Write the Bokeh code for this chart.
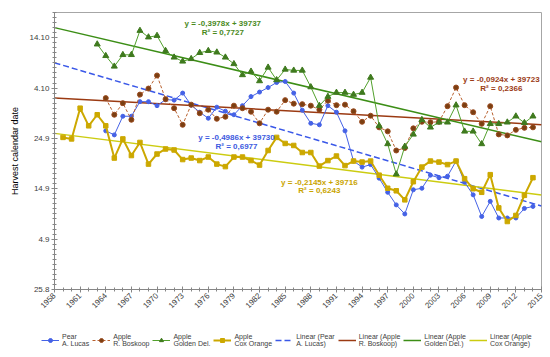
import math
from bokeh.plotting import figure
from bokeh.layouts import column, row
from bokeh.models import Range1d, FixedTicker, Label, Legend, LegendItem
from bokeh.embed import file_html
from bokeh.resources import INLINE

# Excel date serial of 25.8 (2008) = zero of the day offsets below
DATE_ORIGIN = 39685

pear_years = list(range(1964, 2015))
pear_days = [31.5, 30.7, 34.4, 34.4, 37.3, 37.3, 36.5, 37.7, 37.6, 39.0,
             36.6, 35.2, 34.0, 36.2, 35.4, 34.7, 36.5, 38.3, 39.2, 40.1,
             41.1, 41.3, 39.0, 35.6, 33.0, 32.7, 36.5, 35.2, 31.5, 25.5,
             24.3, 24.8, 22.1, 19.3, 16.8, 15.0, 19.8, 20.1, 22.7, 22.2,
             22.5, 25.5, 21.3, 18.8, 14.5, 17.5, 14.2, 14.2, 14.2, 16.1,
             16.5]

boskoop_years = list(range(1964, 2015))
boskoop_days = [38.0, 34.7, 37.0, 33.7, 38.7, 39.9, 42.5, 37.8, 36.0, 32.7,
                36.7, 35.0, 35.7, 33.9, 34.3, 36.5, 36.0, 35.3, 33.0, 35.7,
                35.3, 37.6, 36.9, 36.8, 36.5, 35.7, 37.5, 36.6, 36.7, 35.4,
                33.3, 34.5, 32.2, 31.4, 27.6, 28.1, 32.0, 33.3, 33.2, 33.3,
                36.4, 40.1, 36.6, 35.2, 32.9, 36.4, 30.8, 30.6, 31.7, 32.1,
                32.2]

golden_years = list(range(1963, 2015))
golden_days = [48.7, 46.4, 44.3, 46.6, 46.6, 51.4, 50.1, 50.4, 47.4, 46.1,
               45.3, 45.8, 47.0, 47.4, 47.1, 46.1, 44.8, 42.6, 43.3, 41.4,
               44.1, 41.6, 43.7, 43.5, 43.5, 40.2, 36.5, 38.3, 39.1, 39.1,
               38.7, 39.1, 42.1, 32.5, 28.9, 22.9, 28.4, 30.8, 33.7, 32.2,
               33.2, 33.2, 36.6, 31.4, 31.4, 28.9, 32.9, 32.9, 33.2, 34.4,
               33.1, 34.4]

cox_years = list(range(1959, 2015))
cox_days = [30.2, 29.9, 36.0, 32.5, 34.7, 32.5, 26.1, 29.9, 26.6, 29.2,
            24.9, 26.9, 27.9, 27.7, 25.8, 26.1, 25.6, 26.3, 24.9, 24.4,
            26.3, 26.3, 25.6, 24.7, 27.6, 30.2, 29.0, 28.6, 27.2, 27.2,
            24.5, 25.6, 26.5, 24.6, 25.5, 25.3, 25.5, 22.7, 20.1, 19.6,
            17.8, 21.4, 24.3, 25.5, 25.3, 24.8, 25.5, 22.0, 20.0, 19.3,
            22.8, 16.2, 13.5, 14.7, 18.7, 22.2]

# linear trends (x = year - 1958)
trend_x0 = 1958
trend_years = [1958, 2015]
pear_trend = (-0.4986, 39730, "0,6977")
boskoop_trend = (-0.0924, 39723, "0,2366")
golden_trend = (-0.3978, 39737, "0,7727")
cox_trend = (-0.2145, 39716, "0,6243")

y_tick_values = [39685, 39695, 39705, 39715, 39725, 39735]
y_tick_labels = ["25.8", "4.9", "14.9", "24.9", "4.10", "14.10"]
x_tick_years = list(range(1958, 2016, 3))

legend_labels = ["Pear\nA. Lucas", "Apple\nR. Boskoop", "Apple\nGolden Del.",
                 "Apple\nCox Orange", "Linear (Pear\nA. Lucas)",
                 "Linear (Apple\nR. Boskoop)", "Linear (Apple\nGolden Del.)",
                 "Linear (Apple\nCox Orange)"]

FONT = "Liberation Sans"

p = figure(width=544, height=322, output_backend="svg", toolbar_location=None,
           x_range=Range1d(1958, 2015), y_range=Range1d(39685, 39740),
           min_border_left=54, min_border_right=3, min_border_top=12,
           min_border_bottom=33)
p.xgrid.visible = False
p.ygrid.visible = False
p.outline_line_color = "#a6a6a6"
p.background_fill_color = "white"

# axes
p.yaxis.ticker = FixedTicker(ticks=y_tick_values, minor_ticks=list(range(39685, 39741)))
p.yaxis.major_label_overrides = {v: l for v, l in zip(y_tick_values, y_tick_labels)}
p.xaxis.ticker = FixedTicker(ticks=x_tick_years, minor_ticks=list(range(1958, 2016)))
p.xaxis.major_label_orientation = math.pi / 4
p.yaxis.axis_label = "Harvest calendar date"
for ax in (p.xaxis[0], p.yaxis[0]):
    ax.axis_line_color = "#868686"
    ax.major_tick_line_color = "#868686"
    ax.minor_tick_line_color = "#868686"
    ax.major_tick_in = 3
    ax.major_tick_out = 3
    ax.minor_tick_in = 2
    ax.minor_tick_out = 2
    ax.major_label_text_font = FONT
    ax.major_label_text_font_size = "8px"
    ax.major_label_text_color = "#404040"
    ax.major_label_standoff = 2
p.yaxis.axis_label_text_font = FONT
p.yaxis.axis_label_text_font_size = "9px"
p.yaxis.axis_label_text_font_style = "normal"
p.yaxis.axis_label_text_color = "black"
p.yaxis.axis_label_standoff = 6

def trend(coef):
    a, b, _ = coef
    return [a * (yr - trend_x0) + b for yr in trend_years]

def ser(days):
    return [DATE_ORIGIN + d for d in days]

styles = {
    "pear": dict(line_color="#4562e6", line_width=1),
    "pear_m": dict(marker="circle", size=4, fill_color="#4562e6", line_color="#4562e6"),
    "bos": dict(line_color="#b8602e", line_width=1, line_dash="3 2"),
    "bos_m": dict(marker="circle", size=5, fill_color="#7a3f12", line_color="#9a4a1e"),
    "gold": dict(line_color="#52a02c", line_width=1),
    "gold_m": dict(marker="triangle", size=6, fill_color="#3f7a1e", line_color="#3f7a1e"),
    "cox": dict(line_color="#cca800", line_width=2),
    "cox_m": dict(marker="square", size=4.5, fill_color="#cca800", line_color="#cca800"),
    "t_pear": dict(line_color="#3a58e8", line_width=1.5, line_dash="6 3"),
    "t_bos": dict(line_color="#9b3a12", line_width=1.5),
    "t_gold": dict(line_color="#3c8e16", line_width=1.5),
    "t_cox": dict(line_color="#cccc10", line_width=1.5),
}

# trend lines
p.line(trend_years, trend(pear_trend), **styles["t_pear"])
p.line(trend_years, trend(boskoop_trend), **styles["t_bos"])
p.line(trend_years, trend(golden_trend), **styles["t_gold"])
p.line(trend_years, trend(cox_trend), **styles["t_cox"])

# data series
for yrs, days, key in ((pear_years, pear_days, "pear"), (boskoop_years, boskoop_days, "bos"),
                       (golden_years, golden_days, "gold"), (cox_years, cox_days, "cox")):
    p.line(yrs, ser(days), **styles[key])
    p.scatter(yrs, ser(days), **styles[key + "_m"])

# equations
def eq_text(coef):
    a, b, _ = coef
    return "y = " + f"{a:.4f}".replace(".", ",") + f"x + {b}"

eq_specs = [
    (golden_trend, "#4a8a1c", 1977.7, 39737.8, 39736.0),
    (pear_trend, "#3d5ae0", 1979.3, 39715.2, 39713.4),
    (cox_trend, "#c9a400", 1989.0, 39706.2, 39704.6),
    (boskoop_trend, "#9b3b16", 2010.3, 39726.7, 39724.9),
]
for coef, col, xx, y1, y2 in eq_specs:
    for txt, yy in ((eq_text(coef), y1), ("R\u00b2 = " + coef[2], y2)):
        p.add_layout(Label(x=xx, y=yy, text=txt, text_color=col, text_font=FONT,
                           text_font_size="8px", text_font_style="bold",
                           text_align="center", text_baseline="middle"))

# legend strip (separate figure; its swatch renderers sit outside its ranges)
lg = figure(width=544, height=27, output_backend="svg", toolbar_location=None,
            x_range=Range1d(0, 1), y_range=Range1d(0, 1), min_border=0,
            min_border_left=0, min_border_right=0, min_border_top=0,
            min_border_bottom=0, x_axis_location=None, y_axis_location=None,
            outline_line_color=None)
lg.grid.visible = False
items = []
keys = ["pear", "bos", "gold", "cox", "t_pear", "t_bos", "t_gold", "t_cox"]
for key, lab in zip(keys, legend_labels):
    rs = [lg.line([-5, -4], [-5, -4], **styles[key])]
    if key + "_m" in styles:
        rs.append(lg.scatter([-5], [-5], **styles[key + "_m"]))
    items.append(LegendItem(label=lab, renderers=rs))
legend = Legend(items=items, orientation="horizontal", location=(41, 2),
                padding=2, margin=0, spacing=3, glyph_width=18, glyph_height=10,
                label_standoff=3, label_text_font=FONT, label_text_font_size="7px",
                label_text_color="#404040", border_line_color=None,
                background_fill_alpha=0, label_height=9)
lg.add_layout(legend, "center")

open("out.html", "w").write(file_html(column(p, row(lg), spacing=0), INLINE))
